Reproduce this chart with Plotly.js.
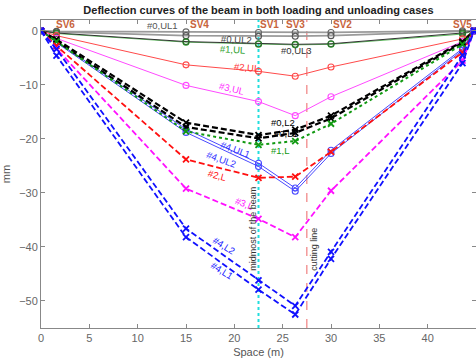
<!DOCTYPE html>
<html><head><meta charset="utf-8">
<script src="https://cdn.plot.ly/plotly-3.0.1.min.js"></script>
<style>html,body{margin:0;padding:0;background:#fff}#c{width:476px;height:358px}</style>
</head><body><div id="c"></div>
<script>
// Sensor / support positions (m)
const xPos = [0, 1.6, 15, 22.5, 26.3, 30, 43.6, 44.8];
const svNames = ["SV6", "SV4", "SV1", "SV3", "SV2", "SV5"];
const svLabelX = [2.5, 16.4, 23.6, 26.3, 31.2, 43.6];
const midX = 22.5;
const cutX = 27.5;

// Unloading cases (mm)
const ul0_1 = [0, -0.1, -0.2, -0.3, -0.3, -0.3, 0, 0];
const ul0_2 = [0, -0.2, -0.9, -1.0, -1.0, -0.9, -0.2, 0];
const ul0_3 = [0, -0.4, -2.0, -2.4, -2.5, -2.4, -0.4, 0];
const ul1   = [0, -0.5, -2.1, -2.5, -2.6, -2.5, -0.6, 0];
const ul2   = [0, -0.9, -6.3, -7.5, -8.4, -6.7, -1.5, 0];
const ul3   = [0, -1.4, -10.1, -13.1, -15.7, -12.2, -2.0, 0];
const ul4_1 = [0, -2.0, -18.2, -24.5, -29.1, -22.1, -3.3, 0];
const ul4_2 = [0, -2.2, -18.8, -25.1, -29.7, -22.7, -3.6, 0];

// Loading cases (mm)
const l0_1 = [0, -1.6, -17.0, -19.3, -18.3, -15.7, -2.0, 0];
const l0_2 = [0, -1.9, -17.8, -19.9, -18.9, -16.2, -2.2, 0];
const l1   = [0, -2.0, -18.6, -21.1, -20.4, -17.2, -2.5, 0];
const l2   = [0, -2.8, -23.8, -27.2, -27.0, -22.4, -4.0, 0];
const l3   = [0, -3.3, -29.2, -34.8, -38.2, -29.6, -5.5, 0];
const l4_2 = [0, -3.4, -36.6, -46.2, -50.9, -40.9, -4.5, 0];
const l4_1 = [0, -4.6, -38.2, -47.9, -52.5, -42.2, -6.0, 0];

const yRange = [-55, 2];
const FONT = 'Liberation Sans, Arial, sans-serif';

function ul(y, color, w, mcol) {
  return {x: xPos, y: y, type: 'scatter', mode: 'lines+markers',
    line: {color: color, width: w},
    marker: {symbol: 'circle-open', size: 6, color: mcol || color, line: {width: 1.1}}};
}
function ld(y, color, w, dash) {
  return {x: xPos, y: y, type: 'scatter', mode: 'lines+markers',
    line: {color: color, width: w, dash: dash || '6px,3px'},
    marker: {symbol: 'x-thin-open', size: 6, color: color, line: {width: 1.8, color: color}}};
}

const traces = [
  {x: [midX, midX], y: yRange, type: 'scatter', mode: 'lines', line: {color: '#22dddd', width: 2, dash: 'dot'}},
  {x: [cutX, cutX], y: yRange, type: 'scatter', mode: 'lines', line: {color: '#f08080', width: 1.2, dash: 'dash'}},
  ul(ul0_1, '#9a9a9a', 1.8, '#666'),
  ul(ul0_2, '#9a9a9a', 1.8, '#555'),
  ul(ul1, '#33aa33', 0.8, '#33aa33'),
  ul(ul0_3, '#333333', 1, '#2e6b2e'),
  ul(ul2, '#ff4a4a', 1),
  ul(ul3, '#ff4aff', 1),
  ul(ul4_1, '#4a4aff', 1),
  ul(ul4_2, '#4a4aff', 1),
  ld(l0_1, '#000000', 2.2),
  ld(l0_2, '#000000', 2.2),
  ld(l1, '#119911', 2, 'dot'),
  ld(l2, '#ff1010', 1.8),
  ld(l3, '#ff10ff', 1.8),
  ld(l4_2, '#1010ff', 1.8),
  ld(l4_1, '#1010ff', 1.8)
];

const labels = [
  ["#0,UL1", 12.6, 0.9, '#555', 0],
  ["#0,UL2", 20.2, -1.7, '#444', 3],
  ["#1,UL", 19.8, -3.4, '#2ca02c', 3],
  ["#0,UL3", 26.4, -3.7, '#333', 0],
  ["#2,UL", 21.3, -6.7, '#ff3030', 5],
  ["#3,UL", 19.7, -10.7, '#ff30ff', 13],
  ["#4,UL1", 20.1, -22.0, '#3030ff', 20],
  ["#4,UL2", 18.7, -23.8, '#3030ff', 20],
  ["#2,L", 18.3, -26.7, '#ff1010', 15],
  ["#3,L", 21.0, -32.0, '#ff10ff', 22],
  ["#0,L2", 25.0, -17.0, '#000', 0],
  ["#0,L1", 25.3, -19.0, '#000', 0],
  ["#1,L", 24.8, -22.2, '#119911', 0],
  ["#4,L2", 18.9, -39.8, '#1010ff', 32],
  ["#4,L1", 18.7, -44.4, '#1010ff', 32]
];
const ann = labels.map(a => ({x: a[1], y: a[2], xref: 'x', yref: 'y', text: a[0], showarrow: false,
  textangle: a[4], font: {size: 9.5, color: a[3], family: FONT}}));
svNames.forEach((n, i) => ann.push({x: svLabelX[i], y: 1.1, xref: 'x', yref: 'y', text: '<b>' + n + '</b>',
  showarrow: false, font: {size: 10, color: '#c8643c', family: FONT}}));
ann.push({x: 21.9, y: -36.7, xref: 'x', yref: 'y', text: 'midmost of the beam', showarrow: false, textangle: -90,
  font: {size: 9, color: '#333', family: FONT}});
ann.push({x: 28.3, y: -40.4, xref: 'x', yref: 'y', text: 'cutting line', showarrow: false, textangle: -90,
  font: {size: 9, color: '#333', family: FONT}});

const layout = {
  width: 476, height: 358,
  margin: {l: 41, r: 0, t: 20, b: 30},
  paper_bgcolor: '#fff', plot_bgcolor: '#fff',
  showlegend: false,
  font: {family: FONT, size: 11, color: '#555'},
  title: {text: '<b>Deflection curves of the beam in both loading and unloading cases</b>',
    font: {size: 11, color: '#222'}, x: 0.543, xanchor: 'center', y: 0.972, yanchor: 'middle'},
  xaxis: {range: [0, 45], tickvals: [0,5,10,15,20,25,30,35,40,45], ticks: 'inside', ticklen: 4,
    showline: true, linecolor: '#888', tickcolor: '#888', mirror: 'ticks', showgrid: false, zeroline: false,
    tickfont: {size: 11, color: '#666'},
    title: {text: 'Space (m)', font: {size: 11, color: '#555'}, standoff: 6}},
  yaxis: {range: yRange, tickvals: [0,-10,-20,-30,-40,-50], ticks: 'inside', ticklen: 4,
    showline: true, linecolor: '#888', tickcolor: '#888', mirror: 'ticks', showgrid: false, zeroline: false,
    tickfont: {size: 11, color: '#666'},
    title: {text: 'mm', font: {size: 11, color: '#555'}, standoff: 8}},
  annotations: ann
};
Plotly.newPlot('c', traces, layout, {staticPlot: true, displayModeBar: false});
</script></body></html>
